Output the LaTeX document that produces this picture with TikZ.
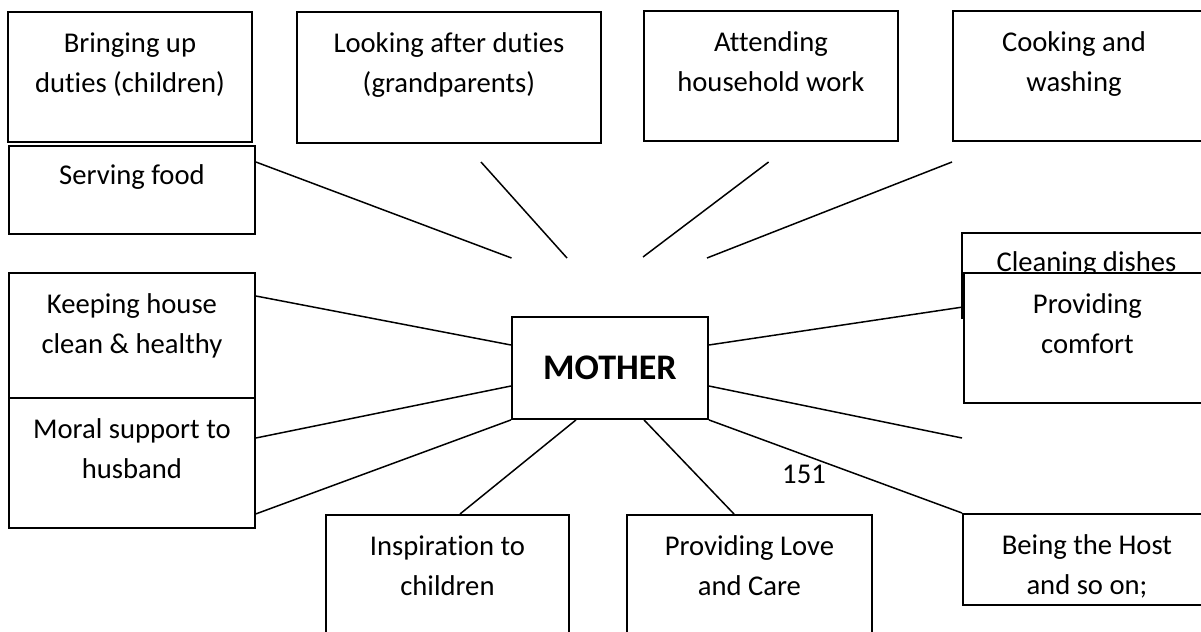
\documentclass[tikz,border=0pt]{standalone}
\usepackage{fontspec}
\setmainfont{Carlito}[Ligatures=NoCommon]
\usetikzlibrary{positioning, calc}
\tikzstyle{duty}   = [draw, line width=1.1pt, fill=white, anchor=north west, inner sep=0pt]
\tikzstyle{lbl}    = [anchor=north, inner sep=0pt, align=center, yshift=-0.22cm, font=\fontsize{16.3}{22.8}\selectfont, execute at begin node=\strut]
\tikzstyle{lbltwo} = [lbl, yshift=-0.2cm]
\tikzstyle{edge}   = [line width=0.85pt]

\begin{document}
\begin{tikzpicture}[x=0.02cm, y=-0.02cm]
\useasboundingbox (0,0) rectangle (1201,632);
\clip (0,0) rectangle (1201,632);

% horni rada
\node[duty, minimum width=4.88cm, minimum height=2.60cm, label={[lbltwo]north:Bringing up\\duties (children)}] (bring) at (7,11) {};
\node[duty, minimum width=6.08cm, minimum height=2.62cm, label={[lbltwo]north:Looking after duties\\(grandparents)}] (look) at (296,11) {};
\node[duty, minimum width=5.08cm, minimum height=2.60cm, label={[lbltwo]north:Attending\\household work}] (attend) at (643,10) {};
\node[duty, minimum width=5.16cm, minimum height=2.60cm, label={[lbltwo, xshift=-0.16cm]north:Cooking and\\washing}] (cook) at (952,10) {};

% leva strana
\node[duty, minimum width=4.92cm, minimum height=1.76cm, label={[lbl]north:Serving food}] (serve) at (8,145) {};
\node[duty, minimum width=4.92cm, minimum height=2.50cm, label={[lbltwo]north:Keeping house\\clean \& healthy}] (keep) at (8,272) {};
\node[duty, minimum width=4.92cm, minimum height=2.60cm, label={[lbltwo]north:Moral support to\\husband}] (moral) at (8,397) {};

% stred
\node[duty, minimum width=3.92cm, minimum height=2.04cm, font=\fontsize{20.5}{24}\selectfont\bfseries] (mother) at (511,316) {MOTHER};

% prava strana
\node[duty, minimum width=4.98cm, minimum height=1.70cm, label={[lbl]north:Cleaning dishes}] (clean) at (961,232) {};
\node[duty, minimum width=4.94cm, minimum height=2.60cm, label={[lbltwo]north:Providing\\comfort}] (comfort) at (963,272) {};
\node[duty, minimum width=4.96cm, minimum height=1.82cm, label={[lbltwo]north:Being the Host\\and so on;}] (host) at (962,513) {};

% dolni rada
\node[duty, minimum width=4.86cm, minimum height=2.92cm, label={[lbltwo]north:Inspiration to\\children}] (inspire) at (325,514) {};
\node[duty, minimum width=4.90cm, minimum height=2.92cm, label={[lbltwo]north:Providing Love\\and Care}] (love) at (626,514) {};

\node[anchor=base, inner sep=0pt, font=\fontsize{16.3}{22.8}\selectfont] (pagenum) at (804,483) {151};

% volne konce car
\coordinate (c1)  at (511.5,258);
\coordinate (c2a) at (481,162);
\coordinate (c2b) at (567,258);
\coordinate (c3a) at (768.6,162);
\coordinate (c3b) at (643,257);
\coordinate (c4a) at (952,162);
\coordinate (c4b) at (707,258);
\coordinate (c5)  at (962,438);

% cary
\draw[edge] ($(serve.north east)+(0,17)$) -- (c1);
\draw[edge] (c2a) -- (c2b);
\draw[edge] (c3a) -- (c3b);
\draw[edge] (c4a) -- (c4b);
\draw[edge] ($(keep.north east)+(0,24)$) -- ($(mother.north west)+(0,29)$);
\draw[edge] ($(moral.north east)+(0,41)$) -- ($(mother.north west)+(0,70)$);
\draw[edge] ($(moral.south east)+(0,-15)$) -- (mother.south west);
\draw[edge] ($(mother.south west)+(65,0)$) -- ($(inspire.north west)+(135,0)$);
\draw[edge] ($(mother.south west)+(133,0)$) -- ($(love.north west)+(108,0)$);
\draw[edge] ($(mother.north east)+(0,29)$) -- ($(comfort.north west)+(0,35)$);
\draw[edge] ($(mother.north east)+(0,70)$) -- (c5);
\draw[edge] (mother.south east) -- (host.north west);

\end{tikzpicture}
\end{document}
